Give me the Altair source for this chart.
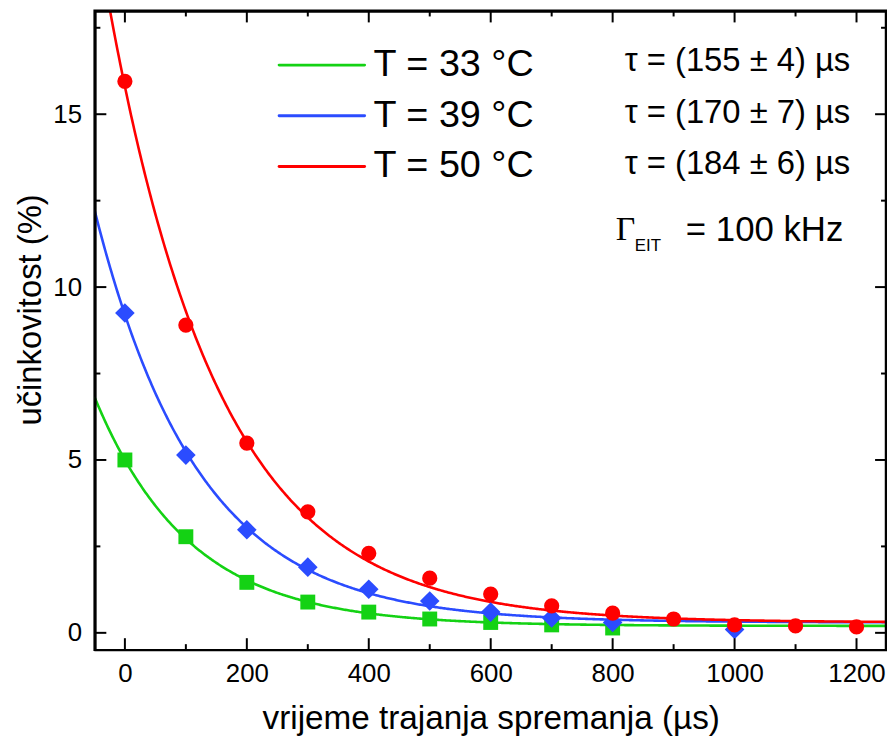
import altair as alt
import pandas as pd

# ---- data ----
t_33 = [0, 100, 200, 300, 400, 500, 600, 700, 800]
eff_33 = [5.0, 2.78, 1.46, 0.89, 0.60, 0.40, 0.30, 0.23, 0.14]

t_39 = [0, 100, 200, 300, 400, 500, 600, 700, 800, 1000]
eff_39 = [9.25, 5.14, 2.98, 1.90, 1.26, 0.92, 0.60, 0.43, 0.30, 0.10]

t_50 = [0, 100, 200, 300, 400, 500, 600, 700, 800, 900, 1000, 1100, 1200]
eff_50 = [15.95, 8.9, 5.49, 3.5, 2.3, 1.58, 1.12, 0.78, 0.57, 0.40, 0.23, 0.20, 0.17]

series_names = ["T = 33 °C", "T = 39 °C", "T = 50 °C"]
series_colors = ["#14d214", "#2b4cff", "#ff0000"]
series_shapes = ["square", "diamond", "circle"]

# exponential fit parameters  y = y0 + A*exp(-t/tau)
fit_tau = [155, 170, 184]
fit_amp = [4.8, 8.9, 15.5]
fit_off = [0.2, 0.3, 0.3]

tau_labels = ["τ = (155 ± 4) µs", "τ = (170 ± 7) µs", "τ = (184 ± 6) µs"]

x_major = [0, 200, 400, 600, 800, 1000, 1200]
x_minor = [100, 300, 500, 700, 900, 1100]
y_major = [0, 5, 10, 15]
y_minor = [2.5, 7.5, 12.5, 17.5]

# ---- layout ----
W, H = 798, 644
FONT = "Liberation Sans"

xs = alt.Scale(domain=[-50, 1250], nice=False, zero=False)
ys = alt.Scale(domain=[-0.5, 18], nice=False, zero=False)

x_axis = alt.Axis(values=x_major, format="d", title="vrijeme trajanja spremanja (µs)", ticks=False,
                  domain=False, grid=False, labelFontSize=26, titleFontSize=33.5, labelFont=FONT,
                  titleFont=FONT, labelColor="black", titleColor="black", titleFontWeight="normal",
                  labelPadding=11, titlePadding=16, labelFlush=False)
y_axis = alt.Axis(values=y_major, format="d", title="učinkovitost (%)", ticks=False, domain=False,
                  grid=False, labelFontSize=26, titleFontSize=33, labelFont=FONT, titleFont=FONT,
                  labelColor="black", titleColor="black", titleFontWeight="normal",
                  labelPadding=13, titlePadding=5, labelFlush=False, titleY=301)


def X(field):
    return alt.X(field, type="quantitative", scale=xs, axis=x_axis)


def Y(field):
    return alt.Y(field, type="quantitative", scale=ys, axis=y_axis)


layers = []

# fit curves
for name, tau, amp, off, col in zip(series_names, fit_tau, fit_amp, fit_off, series_colors):
    curve = (
        alt.Chart(alt.sequence(-50, 1251, 2, as_="t"))
        .transform_calculate(eff=f"{off} + {amp} * exp(-datum.t / {tau})")
        .mark_line(color=col, strokeWidth=2.6, clip=True)
        .encode(x=X("t"), y=Y("eff"))
    )
    layers.append(curve)

# data points
point_sets = [(t_33, eff_33), (t_39, eff_39), (t_50, eff_50)]
point_sizes = [225, 390, 235]
for (tv, ev), name, col, shp, sz in zip(point_sets, series_names, series_colors, series_shapes, point_sizes):
    df = pd.DataFrame({"t": tv, "eff": ev})
    pts = alt.Chart(df).mark_point(filled=True, opacity=1, color=col, shape=shp, size=sz, strokeWidth=0).encode(
        x=X("t"), y=Y("eff")
    )
    layers.append(pts)

one = pd.DataFrame({"k": [0]})

# frame (four sides)
layers.append(alt.Chart(one).mark_rule(color="black", strokeWidth=2.5).encode(
    x=alt.value(0), x2=alt.value(W), y=alt.value(1)))
layers.append(alt.Chart(one).mark_rule(color="black", strokeWidth=2.5).encode(
    x=alt.value(0), x2=alt.value(W), y=alt.value(H)))
layers.append(alt.Chart(one).mark_rule(color="black", strokeWidth=2.5).encode(
    x=alt.value(1), x2=alt.value(1), y=alt.value(0), y2=alt.value(H)))
layers.append(alt.Chart(one).mark_rule(color="black", strokeWidth=2.5).encode(
    x=alt.value(W - 1), x2=alt.value(W - 1), y=alt.value(0), y2=alt.value(H)))


# inward ticks (bottom / top / left / right)
def xticks(vals, length):
    d = pd.DataFrame({"v": vals})
    bot = alt.Chart(d).mark_rule(color="black", strokeWidth=2).encode(
        x=X("v"), y=alt.value(H), y2=alt.value(H - length))
    top = alt.Chart(d).mark_rule(color="black", strokeWidth=2).encode(
        x=X("v"), y=alt.value(0), y2=alt.value(length))
    return [bot, top]


def yticks(vals, length):
    d = pd.DataFrame({"v": vals})
    left = alt.Chart(d).mark_rule(color="black", strokeWidth=2).encode(
        y=Y("v"), x=alt.value(0), x2=alt.value(length))
    right = alt.Chart(d).mark_rule(color="black", strokeWidth=2).encode(
        y=Y("v"), x=alt.value(W), x2=alt.value(W - length))
    return [left, right]


layers += xticks(x_major, 12) + xticks(x_minor, 6) + yticks(y_major, 12) + yticks(y_minor, 6)

# legend
legend_y = [55, 106, 157]
for name, col, ly in zip(series_names, series_colors, legend_y):
    layers.append(alt.Chart(one).mark_rule(color=col, strokeWidth=3, strokeCap="round").encode(
        x=alt.value(186), x2=alt.value(272), y=alt.value(ly)))
    layers.append(alt.Chart(one).mark_text(text=name, font=FONT, fontSize=38, align="left",
                                           baseline="middle", color="black").encode(
        x=alt.value(281), y=alt.value(ly)))

# tau annotations
for lab, ly in zip(tau_labels, [51, 103, 155]):
    layers.append(alt.Chart(one).mark_text(text=lab, font=FONT, fontSize=33, align="right",
                                           baseline="middle", color="black").encode(
        x=alt.value(761), y=alt.value(ly)))

# Gamma_EIT annotation
layers.append(alt.Chart(one).mark_text(text="Γ", font="Liberation Serif", fontSize=34, align="left",
                                       baseline="middle", color="black").encode(
    x=alt.value(525), y=alt.value(221)))
layers.append(alt.Chart(one).mark_text(text="EIT", font=FONT, fontSize=17, align="left",
                                       baseline="middle", color="black").encode(
    x=alt.value(544), y=alt.value(237)))
layers.append(alt.Chart(one).mark_text(text="= 100 kHz", font=FONT, fontSize=35, align="right",
                                       baseline="middle", color="black").encode(
    x=alt.value(754), y=alt.value(221)))

chart = (
    alt.layer(*layers)
    .properties(width=W, height=H, autosize=alt.AutoSizeParams(type="none"),
                padding={"left": 87, "top": 0, "right": 0, "bottom": 91}, background="white")
    .configure_view(stroke="black", strokeWidth=2)
)

chart.save("out.html", embed_options={"renderer": "svg", "actions": False})
